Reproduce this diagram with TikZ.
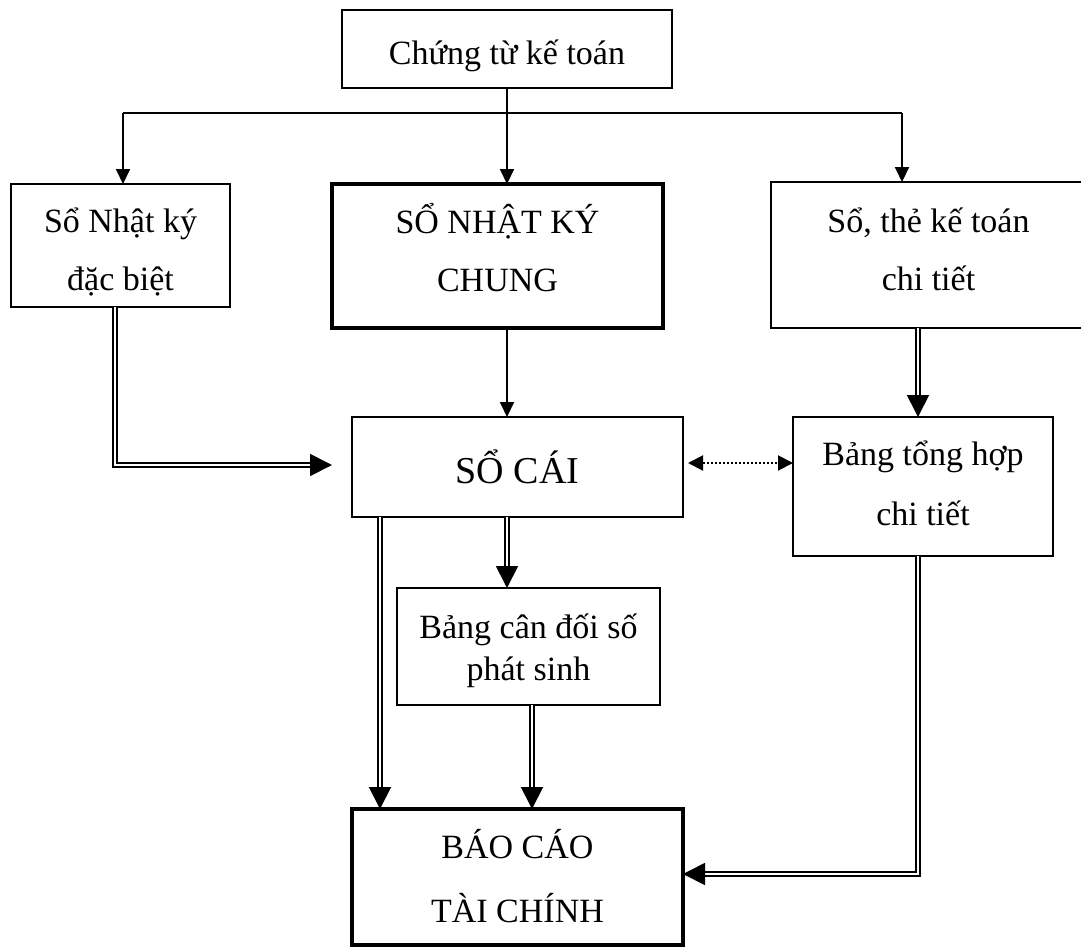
\documentclass[tikz,border=0pt]{standalone}
\usepackage{fontspec}
\setmainfont{Liberation Serif}
\usetikzlibrary{arrows.meta}
\begin{document}
\begin{tikzpicture}[x=1pt,y=-1pt,
  box/.style={draw, line width=2pt, align=center, inner sep=0pt, outer sep=0pt,
    font=\fontsize{34}{58}\selectfont},
  thickbox/.style={box, line width=4pt},
  arr/.style={line width=2pt, -{Triangle[length=15pt,width=14pt]}},
  dbl/.style={line width=1.8pt, double, double distance=2.6pt,
    -{Triangle[length=22pt,width=22pt]}},
  dotarr/.style={line width=2pt, dotted,
    {Triangle[length=15pt,width=15pt]}-{Triangle[length=15pt,width=15pt]}}
]
\useasboundingbox (0,0) rectangle (1081,947);

% boxes: text is hung from the top edge of each box
% (text height reaches down to the baseline of the last line)
\node[box, minimum width=330pt, text height=55pt, text depth=23pt] (top) at (507,49) {Chứng từ kế toán};
\node[box, minimum width=219pt, text height=106pt, text depth=17pt] (nkdb) at (120.5,245.5) {Sổ Nhật ký\\đặc biệt};
\node[thickbox, minimum width=331pt, text height=107pt, text depth=37pt] (nkc) at (497.5,256) {SỔ NHẬT KÝ\\CHUNG};
\node[box, minimum width=315pt, text height=108pt, text depth=38pt] (stkt) at (928.5,255) {Sổ, thẻ kế toán\\chi tiết};
\node[box, minimum width=331pt, text height=66pt, text depth=34pt,
  font=\fontsize{38}{58}\selectfont] (socai) at (517.5,467) {SỔ CÁI};
\node[box, minimum width=260pt, text height=108pt, text depth=31pt,
  font=\fontsize{34}{60}\selectfont] (bth) at (923,486.5) {Bảng tổng hợp\\chi tiết};
\node[box, minimum width=263pt, text height=92pt, text depth=25pt,
  font=\fontsize{34}{42}\selectfont] (bcd) at (528.5,646.5) {Bảng cân đối số\\phát sinh};
\node[thickbox, minimum width=331pt, text height=113pt, text depth=23pt,
  font=\fontsize{34}{64}\selectfont] (bctc) at (517.5,877) {BÁO CÁO\\TÀI CHÍNH};

% junctions and bends
\coordinate (c1) at (123,113);
\coordinate (c2) at (507,113);
\coordinate (c3) at (902,113);
\coordinate (d1) at (115,465);
\coordinate (d3) at (918,874);
\coordinate (colA) at (380,0);
\coordinate (colB) at (532,0);
\coordinate (lnk) at (0,463);

% distribution from the source documents
\draw[line width=2pt] (top.south -| c2) -- (c2);
\draw[line width=2pt] (c1) -- (c3);
\draw[arr] (c1) -- (c1 |- nkdb.north);
\draw[arr] (c2) -- (c2 |- nkc.north);
\draw[arr] (c3) -- (c3 |- stkt.north);

% journal to ledger
\draw[arr] (c2 |- nkc.south) -- (c2 |- socai.north);
\draw[dbl, shorten >=20pt] (nkdb.south -| d1) -- (d1) -- (socai.west |- d1);
\draw[dbl] (stkt.south -| d3) -- (bth.north -| d3);
\draw[dotarr, shorten <=5pt] (socai.east |- lnk) -- (bth.west |- lnk);

% ledger to reports
\draw[dbl] (socai.south -| c2) -- (bcd.north -| c2);
\draw[dbl] (socai.south -| colA) -- (bctc.north -| colA);
\draw[dbl] (bcd.south -| colB) -- (bctc.north -| colB);
\draw[dbl] (bth.south -| d3) -- (d3) -- (bctc.east |- d3);
\end{tikzpicture}
\end{document}
